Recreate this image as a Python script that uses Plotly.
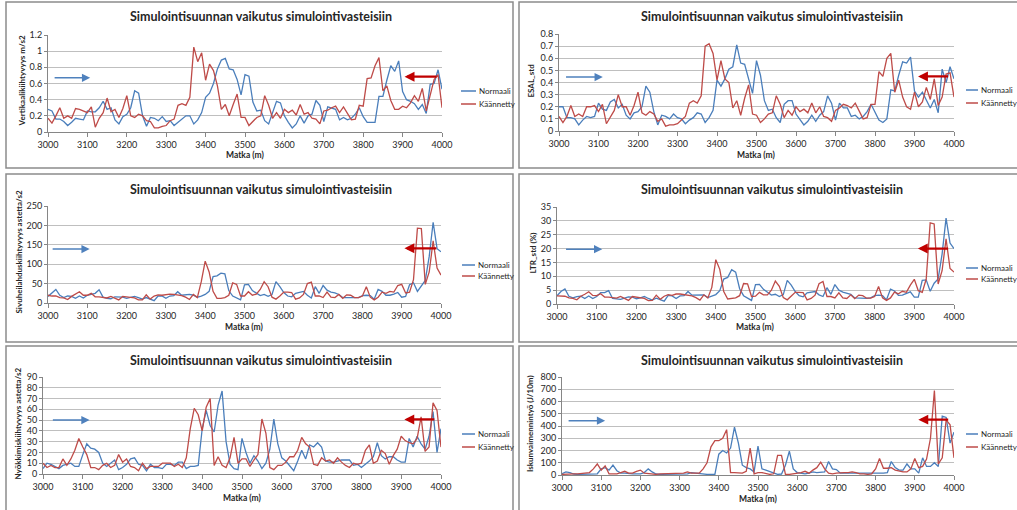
import plotly.graph_objects as go

W, H = 1017, 510

DIST = list(range(3000, 4001, 10))

SERIES_NAMES = ["Normaali", "Käännetty"]
TITLE = "Simulointisuunnan vaikutus simulointivasteisiin"
X_TITLE = "Matka (m)"
Y_TITLES = [
    "Vertikaalikiihtyvyys m/s2",
    "ESAL_std",
    "Sivuheilahduskiihtyvyys astetta/s2",
    "LTR_std (%)",
    "Nyökkimiskiihtyvyys astetta/s2",
    "Iskunvaimennintyö (J/10m)",
]

vert_norm = [
    0.28, 0.26, 0.16, 0.16, 0.13, 0.08, 0.12, 0.17, 0.16, 0.15,
    0.26, 0.25, 0.25, 0.30, 0.38, 0.28, 0.30, 0.15, 0.10, 0.19,
    0.22, 0.30, 0.51, 0.48, 0.20, 0.07, 0.18, 0.17, 0.14, 0.19,
    0.13, 0.14, 0.08, 0.12, 0.16, 0.20, 0.20, 0.10, 0.15, 0.24,
    0.43, 0.48, 0.60, 0.78, 0.89, 0.91, 0.78, 0.77, 0.65, 0.46,
    0.71, 0.69, 0.37, 0.26, 0.27, 0.14, 0.10, 0.24, 0.38, 0.36,
    0.20, 0.12, 0.05, 0.10, 0.20, 0.11, 0.20, 0.22, 0.39, 0.33,
    0.13, 0.31, 0.29, 0.28, 0.15, 0.18, 0.15, 0.17, 0.22, 0.30,
    0.19, 0.12, 0.12, 0.12, 0.44, 0.44, 0.64, 0.82, 0.75, 0.88,
    0.50, 0.40, 0.38, 0.35, 0.28, 0.34, 0.23, 0.59, 0.60, 0.77,
    0.53,
]
vert_kaan = [
    0.17, 0.11, 0.20, 0.30, 0.17, 0.20, 0.17, 0.29, 0.28, 0.26,
    0.24, 0.31, 0.06, 0.17, 0.24, 0.42, 0.25, 0.28, 0.18, 0.29,
    0.45, 0.20, 0.18, 0.22, 0.20, 0.14, 0.13, 0.05, 0.05, 0.07,
    0.08, 0.14, 0.16, 0.33, 0.35, 0.33, 0.43, 1.05, 0.87, 0.98,
    0.64, 0.84, 0.76, 0.57, 0.28, 0.34, 0.20, 0.34, 0.47, 0.18,
    0.18, 0.08, 0.13, 0.18, 0.20, 0.45, 0.33, 0.17, 0.24, 0.17,
    0.28, 0.24, 0.27, 0.21, 0.34, 0.22, 0.24, 0.17, 0.16, 0.10,
    0.26, 0.27, 0.30, 0.32, 0.24, 0.31, 0.23, 0.15, 0.16, 0.33,
    0.32, 0.66, 0.67, 0.82, 0.92, 0.51, 0.57, 0.39, 0.28, 0.28,
    0.32, 0.30, 0.36, 0.45, 0.38, 0.54, 0.26, 0.46, 0.65, 0.71,
    0.30,
]

esal_norm = [
    0.20, 0.20, 0.11, 0.11, 0.10, 0.05, 0.09, 0.12, 0.11, 0.12,
    0.23, 0.18, 0.17, 0.24, 0.26, 0.19, 0.22, 0.13, 0.10, 0.15,
    0.16, 0.20, 0.37, 0.32, 0.16, 0.05, 0.13, 0.12, 0.10, 0.14,
    0.11, 0.10, 0.06, 0.09, 0.11, 0.15, 0.14, 0.07, 0.11, 0.17,
    0.42, 0.37, 0.43, 0.51, 0.53, 0.71, 0.56, 0.55, 0.43, 0.31,
    0.58, 0.46, 0.25, 0.17, 0.18, 0.11, 0.07, 0.22, 0.25, 0.25,
    0.14, 0.09, 0.05, 0.08, 0.13, 0.08, 0.13, 0.16, 0.29, 0.23,
    0.09, 0.23, 0.19, 0.19, 0.12, 0.13, 0.10, 0.12, 0.16, 0.22,
    0.15, 0.09, 0.07, 0.10, 0.34, 0.33, 0.46, 0.57, 0.56, 0.61,
    0.33, 0.28, 0.32, 0.25, 0.19, 0.26, 0.15, 0.51, 0.40, 0.53,
    0.43,
]
esal_kaan = [
    0.12, 0.07, 0.12, 0.21, 0.12, 0.14, 0.12, 0.20, 0.20, 0.21,
    0.16, 0.22, 0.06, 0.11, 0.17, 0.30, 0.20, 0.20, 0.13, 0.21,
    0.32, 0.15, 0.13, 0.16, 0.14, 0.08, 0.10, 0.04, 0.05, 0.05,
    0.06, 0.09, 0.12, 0.23, 0.25, 0.23, 0.29, 0.70, 0.72, 0.64,
    0.42, 0.58, 0.43, 0.40, 0.19, 0.25, 0.13, 0.27, 0.38, 0.14,
    0.13, 0.07, 0.10, 0.14, 0.15, 0.29, 0.22, 0.11, 0.17, 0.13,
    0.20, 0.16, 0.18, 0.15, 0.23, 0.15, 0.20, 0.12, 0.11, 0.08,
    0.17, 0.19, 0.22, 0.21, 0.19, 0.23, 0.16, 0.10, 0.11, 0.22,
    0.22, 0.49, 0.45, 0.60, 0.64, 0.32, 0.42, 0.28, 0.20, 0.18,
    0.32, 0.20, 0.24, 0.36, 0.26, 0.43, 0.21, 0.28, 0.47, 0.48,
    0.28,
]

sivu_norm = [
    17, 25, 35, 20, 14, 18, 17, 12, 18, 13,
    20, 22, 25, 34, 15, 12, 11, 16, 16, 15,
    12, 14, 17, 14, 10, 14, 10, 6, 18, 18,
    12, 18, 19, 29, 20, 21, 22, 20, 15, 18,
    22, 30, 68, 70, 77, 75, 32, 18, 14, 8,
    47, 48, 32, 26, 19, 22, 17, 22, 55, 42,
    27, 18, 16, 25, 27, 30, 20, 13, 42, 25,
    45, 33, 28, 26, 22, 14, 14, 14, 13, 14,
    19, 20, 19, 10, 35, 30, 20, 20, 23, 27,
    15, 17, 47, 52, 30, 43, 58, 120, 208, 140,
    132,
]
sivu_kaan = [
    20, 18, 18, 14, 13, 9, 17, 22, 29, 20,
    20, 25, 16, 16, 15, 13, 17, 13, 8, 17,
    16, 15, 13, 8, 8, 21, 10, 18, 21, 20,
    22, 23, 22, 20, 19, 15, 9, 22, 14, 55,
    108, 80, 30, 12, 12, 14, 20, 52, 48, 18,
    18, 29, 20, 23, 35, 55, 42, 15, 10, 18,
    28, 28, 27, 10, 13, 22, 50, 54, 18, 18,
    14, 28, 15, 14, 22, 12, 21, 20, 14, 14,
    18, 42, 15, 8, 15, 28, 25, 30, 28, 45,
    48, 26, 28, 60, 193, 192, 48, 80, 160, 90,
    72,
]

ltr_norm = [
    3.0, 4.5, 5.4, 2.8, 2.2, 2.7, 2.8, 2.0, 2.9, 2.0,
    2.7, 4.1, 4.1, 4.8, 2.0, 1.9, 1.7, 2.1, 2.6, 2.5,
    1.9, 2.2, 2.7, 2.0, 1.4, 2.1, 1.5, 1.0, 3.1, 2.9,
    2.0, 2.9, 3.0, 4.5, 3.2, 3.3, 3.4, 3.3, 2.3, 2.9,
    3.4, 4.8, 9.0, 9.6, 12.4, 11.5, 5.5, 3.0, 2.3, 1.3,
    7.0, 7.1, 5.3, 4.2, 3.2, 3.5, 2.7, 3.4, 8.5, 6.8,
    4.5, 3.0, 2.6, 4.0, 4.3, 4.5, 3.3, 2.7, 5.9, 3.5,
    7.0, 5.0, 4.3, 4.0, 3.5, 2.2, 2.1, 2.0, 2.0, 2.2,
    3.0, 3.2, 3.0, 1.5, 5.4, 4.7, 3.1, 3.2, 3.7, 4.4,
    2.5, 2.5, 8.5, 8.7, 4.6, 7.5, 9.0, 18.0, 31.0, 22.0,
    20.0,
]
ltr_kaan = [
    2.9, 2.8, 2.8, 2.2, 2.0, 1.5, 2.8, 3.5, 4.4, 3.1,
    3.0, 3.7, 2.5, 2.5, 2.4, 2.1, 2.7, 2.0, 1.3, 2.7,
    2.5, 2.3, 2.0, 1.2, 1.3, 3.2, 1.7, 2.8, 3.4, 3.1,
    3.6, 3.6, 3.4, 3.0, 2.9, 2.3, 1.4, 3.3, 2.2, 6.0,
    16.0, 12.5, 4.5, 1.8, 1.9, 2.2, 3.0, 7.4, 7.3, 2.7,
    2.8, 4.2, 3.3, 3.3, 5.0, 8.3, 6.4, 2.3, 1.5, 2.7,
    4.2, 4.2, 4.1, 1.5, 2.0, 3.2, 7.3, 8.1, 2.7, 2.7,
    2.2, 4.0, 2.2, 2.0, 3.3, 1.9, 3.2, 3.0, 2.1, 2.1,
    2.7, 6.3, 2.2, 1.3, 2.2, 4.3, 3.7, 4.6, 4.2, 6.8,
    8.9, 4.8, 4.2, 9.0, 29.3, 28.9, 7.2, 12.0, 23.5, 12.8,
    11.5,
]

nyok_norm = [
    5, 10, 9, 7, 5, 8, 9, 10, 7, 7,
    18, 28, 24, 23, 20, 10, 7, 10, 13, 4,
    6, 9, 14, 15, 9, 8, 3, 9, 6, 6,
    5, 9, 9, 8, 11, 11, 5, 7, 7, 8,
    42, 59, 45, 39, 64, 77, 30, 9, 5, 4,
    33, 20, 10, 17, 12, 5, 10, 23, 51, 28,
    15, 12, 7, 3, 12, 22, 14, 27, 25, 29,
    25, 12, 11, 11, 12, 13, 13, 13, 8, 9,
    6, 9, 12, 16, 29, 17, 14, 16, 16, 13,
    11, 11, 33, 25, 35, 28, 23, 35, 58, 20,
    42,
]
nyok_kaan = [
    10, 6, 8, 6, 6, 14, 8, 14, 22, 33,
    25, 18, 6, 6, 4, 8, 10, 6, 8, 18,
    11, 14, 7, 6, 3, 10, 5, 7, 7, 7,
    10, 10, 10, 7, 9, 6, 15, 42, 61, 55,
    40, 62, 70, 8, 16, 8, 6, 15, 34, 10,
    14, 14, 7, 13, 18, 51, 38, 6, 4, 8,
    8, 11, 16, 16, 22, 34, 28, 25, 9, 8,
    15, 12, 13, 10, 15, 11, 8, 6, 10, 9,
    10, 22, 27, 10, 12, 22, 19, 9, 17, 23,
    35, 31, 29, 28, 33, 53, 21, 25, 66, 59,
    25,
]

isku_norm = [
    10, 25, 20, 8, 5, 5, 8, 8, 10, 10,
    50, 60, 40, 80, 35, 15, 15, 10, 10, 10,
    10, 20, 50, 25, 8, 5, 5, 5, 5, 8,
    8, 8, 10, 20, 15, 10, 8, 5, 5, 5,
    170, 200, 180, 220, 390, 260, 80, 60, 50, 25,
    235, 50, 40, 30, 20, 5, 8, 80, 195, 50,
    20, 15, 10, 15, 25, 20, 20, 25, 110, 50,
    45, 15, 15, 15, 15, 15, 10, 10, 10, 10,
    10, 10, 15, 20, 110, 60, 40, 40, 90, 50,
    50, 15, 140, 70, 70, 100, 70, 480, 470, 260,
    350,
]
isku_kaan = [
    5, 8, 10, 10, 10, 15, 15, 20, 50, 90,
    40, 75, 10, 10, 10, 20, 30, 15, 15, 30,
    40, 15, 10, 8, 5, 10, 10, 10, 10, 10,
    15, 15, 25, 15, 15, 15, 50, 100, 230, 280,
    280, 300, 370, 20, 20, 20, 15, 30, 220, 10,
    20, 20, 15, 5, 10, 160, 160, 5, 5, 10,
    10, 20, 30, 15, 40, 60, 105, 50, 15, 10,
    15, 20, 20, 20, 25, 20, 10, 10, 5, 10,
    50, 135, 55, 55, 60, 40, 30, 25, 25, 50,
    135, 60, 70, 130, 300, 690, 90, 140, 450, 410,
    140,
]

NORMAALI = [vert_norm, esal_norm, sivu_norm, ltr_norm, nyok_norm, isku_norm]
KAANNETTY = [vert_kaan, esal_kaan, sivu_kaan, ltr_kaan, nyok_kaan, isku_kaan]
Y_MAX = [1.2, 0.8, 250, 35, 90, 800]
Y_STEP = [0.2, 0.1, 50, 5, 10, 100]

# arrow annotations (data coords): (tail_x, head_x, y)
BLUE_ARROW = [(3013, 3107, 0.67), (3014, 3111, 0.445), (3008, 3106, 139),
              (3019, 3114, 19.8), (3021, 3117, 50), (3013, 3110, 443)]
RED_ARROW = [(3990, 3905, 0.684), (3989, 3909, 0.45), (3992, 3907, 141),
             (3989, 3909, 20), (3987, 3908, 50.6), (3989, 3909, 452)]

for s in NORMAALI + KAANNETTY:
    assert len(s) == len(DIST), len(s)

# ---------------- layout (pixel boxes) ----------------
PLOT_BOX = [  # x0, x1, y0(top), y1(bottom)
    (48, 442, 35, 132),
    (559, 954, 34, 131),
    (48, 441, 206, 303),
    (557, 954, 207, 304),
    (43, 441, 377, 474),
    (562, 954, 377, 475),
]
PANEL_BOX = [
    (6, 513, 2, 168), (519, 1030, 2, 168),
    (6, 513, 174, 342), (519, 1030, 174, 342),
    (6, 513, 346, 520), (519, 1030, 346, 520),
]
TITLE_POS = [(261, 17), (772, 17), (261, 189), (772, 189), (261, 360), (772, 360)]
YTITLE_X = [21, 530, 18, 532, 17, 530]
XTITLE_Y = [155, 155, 327, 327, 498, 499]
LEG = [  # line x0, x1, y normaali, y kaannetty
    (461, 476, 91, 104), (966, 978, 90, 103),
    (462, 475, 265, 276), (966, 978, 268, 279),
    (462, 475, 434, 447), (966, 978, 434, 447),
]

BLUE = "#4a7ebb"
RED = "#be4b48"
ARROW_BLUE = "#4f81bd"
ARROW_RED = "#c00000"
FONT = "Lato"
TXT = "#262626"


def px(x):
    return x / W


def py(y):
    return 1 - y / H


fig = go.Figure()
annotations = []
shapes = []

for i in range(6):
    n = i + 1
    xa = "x" if n == 1 else f"x{n}"
    ya = "y" if n == 1 else f"y{n}"
    xk = "xaxis" if n == 1 else f"xaxis{n}"
    yk = "yaxis" if n == 1 else f"yaxis{n}"
    x0, x1, yt, yb = PLOT_BOX[i]

    fig.add_trace(go.Scatter(x=DIST, y=NORMAALI[i], mode="lines", name=SERIES_NAMES[0],
                             line=dict(color=BLUE, width=1.3), xaxis=xa, yaxis=ya,
                             showlegend=False))
    fig.add_trace(go.Scatter(x=DIST, y=KAANNETTY[i], mode="lines", name=SERIES_NAMES[1],
                             line=dict(color=RED, width=1.3), xaxis=xa, yaxis=ya,
                             showlegend=False))

    fig.layout[xk] = dict(domain=[px(x0), px(x1)], anchor=ya, range=[3000, 4000],
                          dtick=100, tick0=3000, showgrid=False, zeroline=False,
                          showline=True, linecolor="#868686", linewidth=1,
                          ticks="outside", ticklen=4, tickcolor="#868686", automargin=False,
                          tickfont=dict(family=FONT, size=9, color=TXT), fixedrange=True)
    fig.layout[yk] = dict(domain=[py(yb), py(yt)], anchor=xa, range=[0, Y_MAX[i]],
                          dtick=Y_STEP[i], tick0=0, showgrid=True, gridcolor="#bfbfbf",
                          gridwidth=1, zeroline=False, showline=True, linecolor="#868686",
                          linewidth=1, ticks="outside", ticklen=3, tickcolor="#868686",
                          automargin=False,
                          tickfont=dict(family=FONT, size=9, color=TXT), fixedrange=True)

    # panel frame
    bx0, bx1, by0, by1 = PANEL_BOX[i]
    shapes.append(dict(type="rect", xref="paper", yref="paper", x0=px(bx0), x1=px(bx1),
                       y0=py(by1), y1=py(by0), line=dict(color="#8c8c8c", width=1.5),
                       layer="below"))

    # title
    tx, ty = TITLE_POS[i]
    annotations.append(dict(text=f"<b>{TITLE}</b>", xref="paper", yref="paper", x=px(tx),
                            y=py(ty), xanchor="center", yanchor="middle", showarrow=False,
                            font=dict(family=FONT, size=12.5, color=TXT)))
    # axis titles
    annotations.append(dict(text=f"<b>{X_TITLE}</b>", xref="paper", yref="paper",
                            x=px((x0 + x1) / 2), y=py(XTITLE_Y[i]), xanchor="center",
                            yanchor="middle", showarrow=False,
                            font=dict(family=FONT, size=8.5, color=TXT)))
    annotations.append(dict(text=f"<b>{Y_TITLES[i]}</b>", xref="paper", yref="paper",
                            x=px(YTITLE_X[i]), y=py((yt + yb) / 2 - 2), xanchor="center",
                            yanchor="middle", textangle=-90, showarrow=False,
                            font=dict(family=FONT, size=8, color=TXT)))

    # legend (manual)
    lx0, lx1, ly1, ly2 = LEG[i]
    for name, col, ly in ((SERIES_NAMES[0], BLUE, ly1), (SERIES_NAMES[1], RED, ly2)):
        shapes.append(dict(type="line", xref="paper", yref="paper", x0=px(lx0), x1=px(lx1),
                           y0=py(ly), y1=py(ly), line=dict(color=col, width=1.5)))
        annotations.append(dict(text=name, xref="paper", yref="paper", x=px(lx1 + 1),
                                y=py(ly), xanchor="left", yanchor="middle", showarrow=False,
                                font=dict(family=FONT, size=8, color=TXT)))

    # direction arrows
    tx0, hx, ay = BLUE_ARROW[i]
    annotations.append(dict(x=hx, y=ay, ax=tx0, ay=ay, xref=xa, yref=ya, axref=xa, ayref=ya,
                            text="", showarrow=True, arrowhead=2, arrowsize=1.1,
                            arrowwidth=1.5, arrowcolor=ARROW_BLUE))
    tx0, hx, ay = RED_ARROW[i]
    annotations.append(dict(x=hx, y=ay, ax=tx0, ay=ay, xref=xa, yref=ya, axref=xa, ayref=ya,
                            text="", showarrow=True, arrowhead=2, arrowsize=0.9,
                            arrowwidth=2.2, arrowcolor=ARROW_RED))

fig.update_layout(width=W, height=H, margin=dict(l=0, r=0, t=0, b=0, autoexpand=False),
                  paper_bgcolor="white", plot_bgcolor="white", showlegend=False,
                  annotations=annotations, shapes=shapes)

fig.write_html("out.html")
